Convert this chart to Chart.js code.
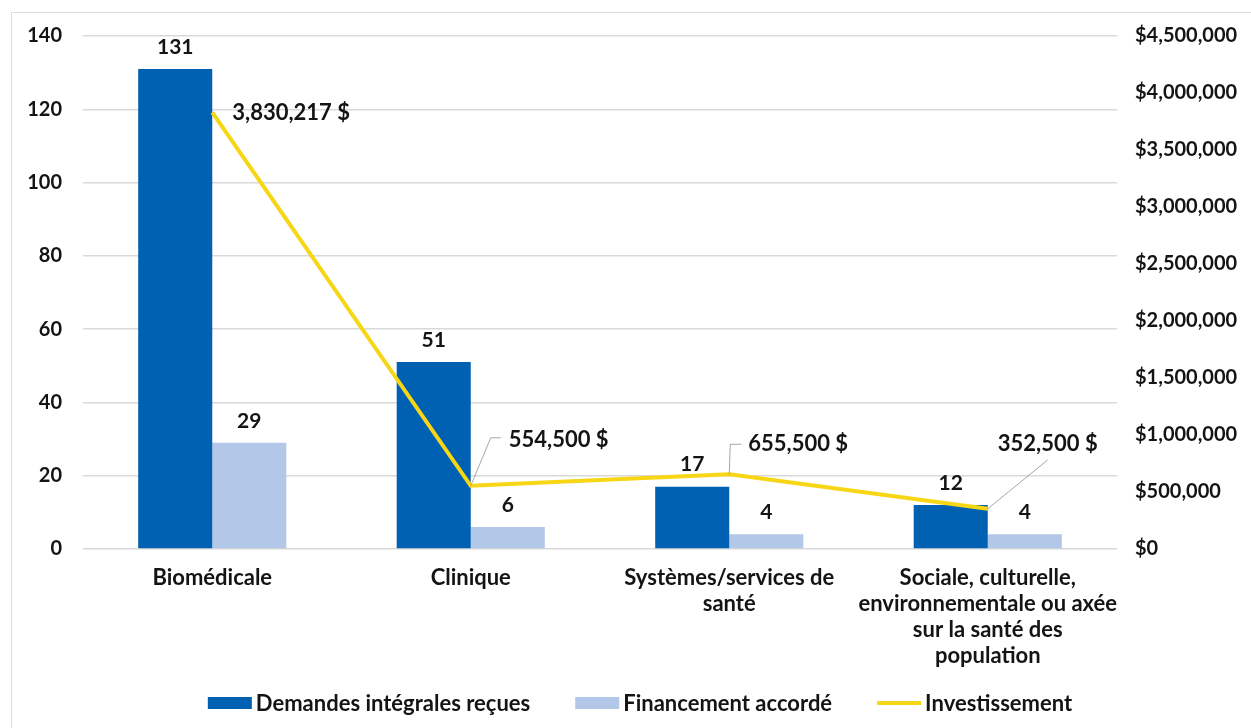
<!DOCTYPE html>
<html>
<head>
<meta charset="utf-8">
<title>Demandes et financement par domaine</title>
<script src="https://cdn.jsdelivr.net/npm/chart.js@4.4.1/dist/chart.umd.min.js"></script>
<style>
    html, body { margin: 0; padding: 0; background: #fff; overflow: hidden; }
    #frame {
        position: absolute; left: 11px; top: 12px; width: 1400px; height: 900px;
        border-left: 1.5px solid #dcdcdc; border-top: 1.5px solid #dcdcdc;
    }
    #myChart { position: absolute; left: 0; top: 0; }
</style>
</head>
<body>
<div id="frame"></div>
<canvas id="myChart" width="1251" height="728"></canvas>
<script>
'use strict';

var categories = [
    'Biomédicale',
    'Clinique',
    ['Systèmes/services de', 'santé'],
    ['Sociale, culturelle,', 'environnementale ou axée', 'sur la santé des', 'population']
];
var demandes = [131, 51, 17, 12];
var financement = [29, 6, 4, 4];
var investissement = [3830217, 554500, 655500, 352500];
var countTicks = [0, 20, 40, 60, 80, 100, 120, 140];
var moneyTicks = [0, 500000, 1000000, 1500000, 2000000, 2500000, 3000000, 3500000, 4000000, 4500000];

var seriesNames = ['Demandes intégrales reçues', 'Financement accordé', 'Investissement'];
var colorList = ['#0060B2', '#B3C7E8', '#F7D616'];
var FONT = 'Lato, "Open Sans", sans-serif';
var TEXT = '#141414';

// where each investment label sits relative to its point
var callouts = [
    {dx: 20, dy: 1, align: 'left', leader: null},
    {dx: 38, dy: -46, align: 'left', leader: [[20, -48], [30, -48]]},
    {dx: 19, dy: -30, align: 'left', leader: [[1, -30], [12, -30]]},
    {dx: 60, dy: -65, align: 'center', leader: [[60, -49]]}
];

function money(v) {
    return v.toLocaleString('en-US');
}

var valueLabels = {
    id: 'valueLabels',
    afterDatasetsDraw: function(chart) {
        var ctx = chart.ctx;
        ctx.save();
        ctx.fillStyle = TEXT;
        ctx.textBaseline = 'middle';

        ctx.font = 'bold 21px ' + FONT;
        [0, 1].forEach(function(di) {
            var meta = chart.getDatasetMeta(di);
            meta.data.forEach(function(bar, i) {
                ctx.textAlign = 'center';
                ctx.fillText(String(chart.data.datasets[di].data[i]), bar.x, bar.y - 22);
            });
        });

        ctx.font = 'bold 22px ' + FONT;
        var line = chart.getDatasetMeta(2);
        line.data.forEach(function(pt, i) {
            var c = callouts[i];
            if (c.leader) {
                ctx.beginPath();
                ctx.strokeStyle = '#a6a6a6';
                ctx.lineWidth = 1;
                ctx.moveTo(pt.x, pt.y);
                c.leader.forEach(function(p) {
                    ctx.lineTo(pt.x + p[0], pt.y + p[1]);
                });
                ctx.stroke();
            }
            ctx.textAlign = c.align;
            ctx.fillText(money(investissement[i]) + ' $', pt.x + c.dx, pt.y + c.dy);
        });
        ctx.restore();
    }
};

var bottomLegend = {
    id: 'bottomLegend',
    afterDraw: function(chart) {
        var ctx = chart.ctx;
        ctx.save();
        ctx.font = 'bold 22px ' + FONT;
        ctx.textBaseline = 'middle';
        ctx.textAlign = 'left';
        var boxW = 44, gapText = 4, gapItem = 45, y = 703;
        var widths = seriesNames.map(function(n) {
            return boxW + gapText + ctx.measureText(n).width;
        });
        var total = widths.reduce(function(a, b) { return a + b; }, 0) + gapItem * (widths.length - 1);
        var x = 640 - total / 2;
        seriesNames.forEach(function(n, i) {
            if (i < 2) {
                ctx.fillStyle = colorList[i];
                ctx.fillRect(x, y - 6, boxW, 12);
            } else {
                ctx.strokeStyle = colorList[i];
                ctx.lineWidth = 4;
                ctx.beginPath();
                ctx.moveTo(x, y);
                ctx.lineTo(x + boxW, y);
                ctx.stroke();
            }
            ctx.fillStyle = TEXT;
            ctx.fillText(n, x + boxW + gapText, y + 1);
            x += widths[i] + gapItem;
        });
        ctx.restore();
    }
};

var canvas = document.getElementById('myChart');
var chart = new Chart(canvas.getContext('2d'), {
    type: 'bar',
    data: {
        labels: categories,
        datasets: [{
            label: seriesNames[0],
            data: demandes,
            backgroundColor: colorList[0],
            yAxisID: 'y',
            order: 1,
            categoryPercentage: 0.573,
            barPercentage: 1
        }, {
            label: seriesNames[1],
            data: financement,
            backgroundColor: colorList[1],
            yAxisID: 'y',
            order: 1,
            categoryPercentage: 0.573,
            barPercentage: 1
        }, {
            type: 'line',
            label: seriesNames[2],
            data: investissement,
            borderColor: colorList[2],
            backgroundColor: colorList[2],
            borderWidth: 4,
            pointRadius: 0,
            tension: 0,
            yAxisID: 'y1',
            order: 0
        }]
    },
    options: {
        responsive: false,
        animation: false,
        layout: {padding: {top: 36, bottom: 0, left: 0, right: 0}},
        plugins: {
            legend: {display: false},
            tooltip: {enabled: false}
        },
        scales: {
            x: {
                grid: {display: false, drawTicks: false},
                border: {display: false},
                ticks: {
                    color: TEXT,
                    padding: 16,
                    maxRotation: 0,
                    autoSkip: false,
                    font: {family: FONT, size: 22, weight: 'bold', lineHeight: 1.18}
                },
                afterFit: function(scale) { scale.height = 179; }
            },
            y: {
                position: 'left',
                min: 0,
                max: 140,
                afterBuildTicks: function(scale) {
                    scale.ticks = countTicks.map(function(v) { return {value: v}; });
                },
                grid: {color: '#d9d9d9', lineWidth: 1.5, drawTicks: false},
                border: {display: false},
                ticks: {
                    color: TEXT,
                    padding: 21,
                    font: {family: FONT, size: 20, weight: 'bold'}
                },
                afterFit: function(scale) { scale.width = 83; }
            },
            y1: {
                position: 'right',
                min: 0,
                max: 4500000,
                afterBuildTicks: function(scale) {
                    scale.ticks = moneyTicks.map(function(v) { return {value: v}; });
                },
                grid: {display: false, drawTicks: false},
                border: {display: false},
                ticks: {
                    color: TEXT,
                    padding: 18,
                    font: {family: FONT, size: 20, weight: 'bold'},
                    callback: function(v) { return '$' + money(v); }
                },
                afterFit: function(scale) { scale.width = 134; }
            }
        }
    },
    plugins: [valueLabels, bottomLegend]
});
</script>
</body>
</html>
